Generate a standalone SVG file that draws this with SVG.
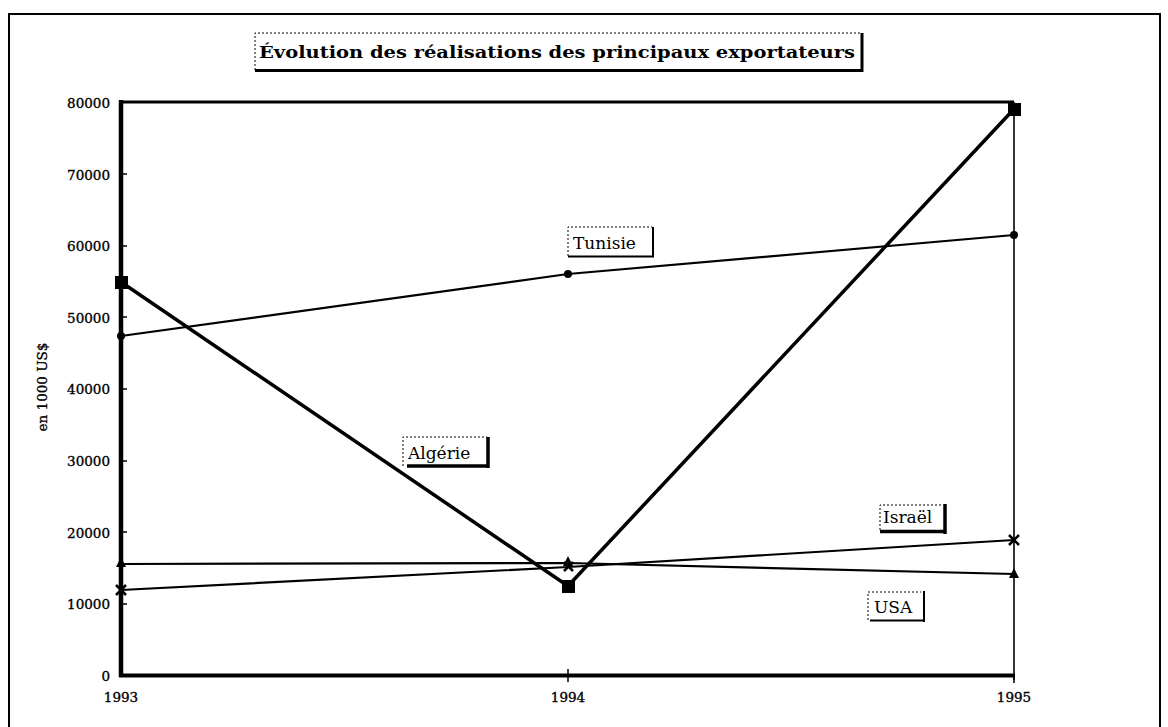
<svg xmlns="http://www.w3.org/2000/svg" width="1168" height="727" viewBox="0 0 1168 727">
<style>
.ax{font-family:"DejaVu Serif","Liberation Serif",serif;font-size:13.5px;fill:#000;stroke:#000;stroke-width:0.35}
.lbl{font-family:"DejaVu Serif","Liberation Serif",serif;font-size:17px;fill:#000}
.ttl{font-family:"DejaVu Serif","Liberation Serif",serif;font-size:17px;font-weight:bold;fill:#000}
.dot{stroke:#000;stroke-width:1;stroke-dasharray:2 2;fill:none}
.sh{stroke:#000;fill:none}
</style>
<rect width="1168" height="727" fill="#fff"/>
<g id="frame">
<path d="M9,727 V14 H1160 V727" fill="none" stroke="#000" stroke-width="2"/>
</g>
<g id="title">
<path class="dot" d="M255,70 V33 H860"/>
<path class="sh" d="M862,33 V72 M255,70.5 H862" stroke-width="3"/>
<text class="ttl" x="259" y="58" textLength="596" lengthAdjust="spacingAndGlyphs">Évolution des réalisations des principaux exportateurs</text>
</g>
<g id="axes">
<path d="M121,102 H1014" stroke="#000" stroke-width="3" fill="none"/>
<path d="M1014,102 V680" stroke="#000" stroke-width="1.6" fill="none"/>
<path d="M121,100 V677" stroke="#000" stroke-width="4.5" fill="none"/>
<path d="M119,675.5 H1015" stroke="#000" stroke-width="4" fill="none"/>
<path d="M123,174 h4 M123,246 h4 M123,317 h4 M123,389 h4 M123,461 h4 M123,532 h4 M123,604 h4 M568,669 v13 M1014,675 v8" stroke="#000" stroke-width="1.5" fill="none"/>
</g>
<g id="y-labels" class="ax" text-anchor="end">
<text x="110" y="108">80000</text>
<text x="110" y="180">70000</text>
<text x="110" y="251">60000</text>
<text x="110" y="323">50000</text>
<text x="110" y="394">40000</text>
<text x="110" y="466">30000</text>
<text x="110" y="538">20000</text>
<text x="110" y="609">10000</text>
<text x="110" y="681">0</text>
</g>
<g id="x-labels" class="ax" text-anchor="middle">
<text x="121" y="702">1993</text>
<text x="568" y="702">1994</text>
<text x="1014" y="702">1995</text>
</g>
<text class="ax" transform="translate(47,387) rotate(-90)" text-anchor="middle">en 1000 US$</text>
<g id="connectors" fill="none" stroke="#000" stroke-linejoin="round">
<polyline id="line-algerie" points="121,282 568,586 1014,109" stroke-width="3.5"/>
<polyline id="line-tunisie" points="121,336 568,274 1014,235" stroke-width="2.2"/>
<polyline id="line-israel" points="121,590 568,567 1014,540" stroke-width="2.2"/>
<polyline id="line-usa" points="121,564 568,563 1014,574" stroke-width="2.2"/>
</g>
<g id="markers-algerie" fill="#000">
<rect x="115" y="276" width="13" height="13"/>
<rect x="562" y="580" width="13" height="13"/>
<rect x="1008" y="103" width="13" height="13"/>
</g>
<g id="markers-tunisie" fill="#000">
<circle cx="121" cy="336" r="4"/>
<circle cx="568" cy="274" r="4"/>
<circle cx="1014" cy="235" r="4"/>
</g>
<g id="markers-usa" fill="#000">
<path d="M121,557 l-5,10 h10 z"/>
<path d="M568,556 l-5,10 h10 z"/>
<path d="M1014,568 l-5,10 h10 z"/>
</g>
<g id="markers-israel" stroke="#000" stroke-width="2.5">
<path d="M116,585 l10,10 M126,585 l-10,10"/>
<path d="M564,562 l9,9 M573,562 l-9,9"/>
<path d="M1009,535 l10,10 M1019,535 l-10,10"/>
</g>
<g id="label-tunisie">
<path class="dot" d="M568,256 V227 H652"/>
<path class="sh" d="M653,227 V257 M568,256.5 H654" stroke-width="2"/>
<text class="lbl" x="573" y="249">Tunisie</text>
</g>
<g id="label-algerie">
<path class="dot" d="M403,466 V437 H487"/>
<path class="sh" d="M488,437 V468 M407,466 H489" stroke-width="3.5"/>
<text class="lbl" x="408" y="459">Algérie</text>
</g>
<g id="label-israel">
<path class="dot" d="M880,530 V505 H943"/>
<path class="sh" d="M945,504 V534 M880,531.5 H946" stroke-width="3.5"/>
<text class="lbl" x="883" y="523">Israël</text>
</g>
<g id="label-usa">
<path class="dot" d="M868,620 V592 H921"/>
<path class="sh" d="M924,591 V622 M870,620.5 H925" stroke-width="2"/>
<text class="lbl" x="874" y="613">USA</text>
</g>
</svg>
